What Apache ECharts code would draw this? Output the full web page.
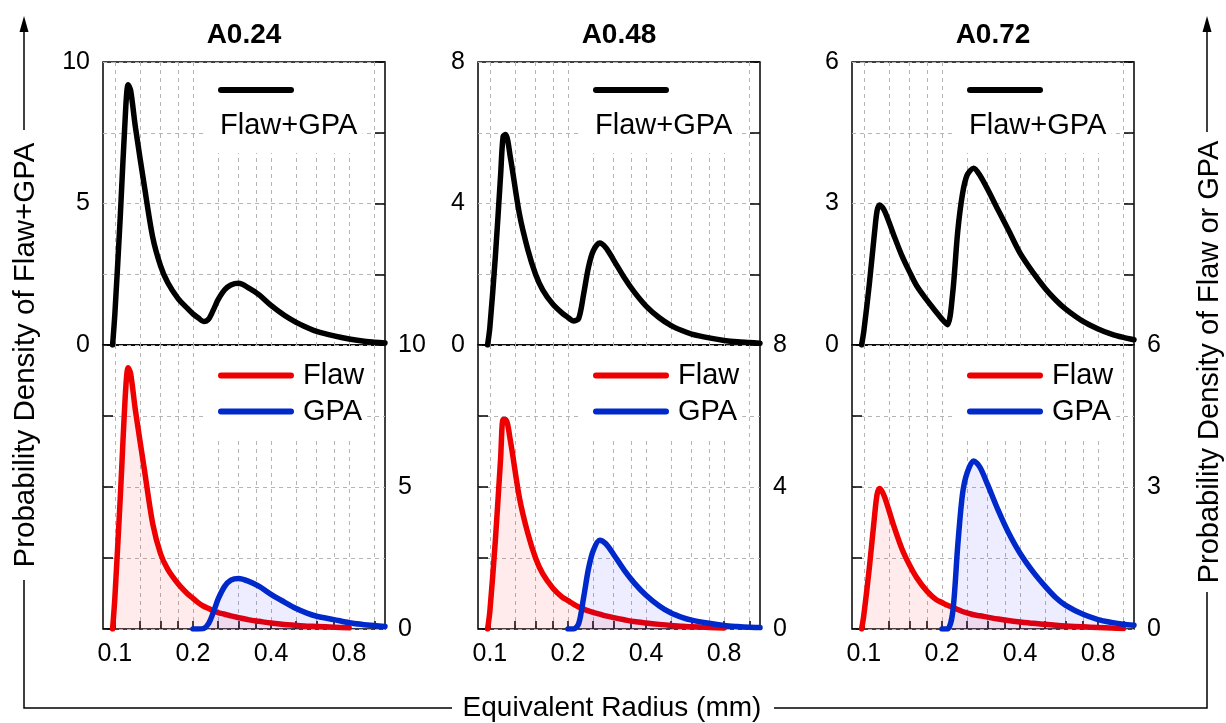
<!DOCTYPE html>
<html>
<head>
<meta charset="utf-8">
<script src="https://cdn.jsdelivr.net/npm/echarts@6/dist/echarts.min.js"></script>
<style>
  html, body { margin: 0; padding: 0; background: #fff; }
  #chart { width: 1226px; height: 723px; }
</style>
</head>
<body>
<div id="chart"></div>
<script>
// equivalent radius (mm), shared sample points of every curve
const radius = [0.098, 0.1, 0.105, 0.11, 0.1125, 0.115, 0.12, 0.13, 0.14, 0.15, 0.16, 0.175, 0.19, 0.2, 0.21, 0.22, 0.23, 0.24, 0.25, 0.265, 0.28, 0.3, 0.33, 0.36, 0.4, 0.45, 0.5, 0.55, 0.6, 0.7, 0.8, 0.9, 1.0, 1.1];

const panelNames = ['A0.24', 'A0.48', 'A0.72'];
const yMax = [10, 8, 6];

// A0.24
const sumA024  = [0, 1.1, 4.6, 8.3, 9.2, 9.0, 7.7, 5.6, 3.8, 2.8, 2.2, 1.65, 1.3, 1.1, 0.95, 0.83, 0.92, 1.25, 1.6, 1.95, 2.12, 2.18, 2.0, 1.77, 1.4, 1.05, 0.8, 0.62, 0.48, 0.32, 0.21, 0.14, 0.1, 0.07];
const flawA024 = [0, 1.1, 4.7, 8.4, 9.2, 9.0, 7.7, 5.6, 3.7, 2.65, 2.1, 1.6, 1.25, 1.08, 0.92, 0.8, 0.72, 0.64, 0.58, 0.52, 0.46, 0.4, 0.32, 0.27, 0.21, 0.16, 0.13, 0.1, 0.09, 0.06, 0.04, null, null, null];
const gpaA024  = [null, null, null, null, null, null, null, null, null, null, null, null, null, 0, 0, 0.02, 0.2, 0.6, 1.05, 1.5, 1.72, 1.78, 1.67, 1.5, 1.22, 0.95, 0.72, 0.56, 0.45, 0.33, 0.22, 0.16, 0.12, 0.09];

// A0.48
const sumA048  = [0, 0.5, 2.5, 4.8, 5.9, 5.95, 5.3, 3.7, 2.7, 2.0, 1.55, 1.15, 0.9, 0.78, 0.68, 0.75, 1.45, 2.2, 2.65, 2.88, 2.75, 2.4, 1.9, 1.5, 1.1, 0.77, 0.55, 0.41, 0.31, 0.2, 0.13, 0.09, 0.07, 0.05];
const flawA048 = [0, 0.5, 2.5, 4.8, 5.9, 5.9, 5.3, 3.7, 2.7, 2.0, 1.55, 1.15, 0.9, 0.8, 0.7, 0.62, 0.56, 0.51, 0.47, 0.42, 0.37, 0.32, 0.26, 0.21, 0.17, 0.13, 0.1, 0.08, 0.06, 0.04, 0.03, null, null, null];
const gpaA048  = [null, null, null, null, null, null, null, null, null, null, null, null, null, 0, 0, 0.15, 0.9, 1.7, 2.2, 2.5, 2.4, 2.1, 1.65, 1.3, 0.95, 0.65, 0.45, 0.33, 0.25, 0.16, 0.1, 0.07, 0.05, 0.04];

// A0.72
const sumA072  = [0, 0.3, 1.3, 2.4, 2.85, 2.97, 2.85, 2.35, 1.9, 1.55, 1.25, 0.95, 0.7, 0.55, 0.43, 1.1, 2.4, 3.2, 3.6, 3.75, 3.6, 3.3, 2.85, 2.45, 1.95, 1.53, 1.2, 0.95, 0.76, 0.5, 0.34, 0.23, 0.16, 0.11];
const flawA072 = [0, 0.3, 1.3, 2.4, 2.85, 2.97, 2.8, 2.2, 1.7, 1.35, 1.08, 0.8, 0.62, 0.56, 0.5, 0.46, 0.41, 0.37, 0.34, 0.3, 0.28, 0.25, 0.21, 0.18, 0.15, 0.12, 0.1, 0.08, 0.065, 0.045, 0.03, 0.02, 0.01, null];
const gpaA072  = [null, null, null, null, null, null, null, null, null, null, null, null, null, 0, 0, 0.35, 1.75, 2.85, 3.3, 3.55, 3.42, 3.05, 2.5, 2.05, 1.6, 1.2, 0.9, 0.66, 0.5, 0.31, 0.2, 0.14, 0.1, 0.08];

const sumData = [sumA024, sumA048, sumA072];
const flawData = [flawA024, flawA048, flawA072];
const gpaData = [gpaA024, gpaA048, gpaA072];

// x axis (log scale)
const xRange = [0.09, 1.1];
const xTickLabels = [0.1, 0.2, 0.4, 0.8];
const xGridValues = [0.1, 0.125, 0.15, 0.175, 0.2, 0.25, 0.3, 0.35, 0.4, 0.5, 0.6, 0.7, 0.8, 1.0];

const FONT = '"Liberation Sans", Arial, sans-serif';
const panelLeft = [103, 478, 852];
const plotW = 282;
const topY = 62, midY = 345, botY = 629;

const lg = v => Math.log10(v);

function toPoints(vals) {
    let pts = [];
    radius.forEach((r, i) => {
        if (vals[i] != null) pts.push([lg(r), vals[i]]);
    });
    return pts;
}

let grid = [], xAxis = [], yAxis = [], series = [], legend = [], graphic = [];

for (let p = 0; p < 3; p++) {
    const ym = yMax[p];
    const left = panelLeft[p];
    // 0: top (Flaw+GPA), 1: bottom (Flaw, GPA)
    for (let k = 0; k < 2; k++) {
        const gi = p * 2 + k;
        const isBottom = k === 1;
        grid.push({
            left: left,
            top: isBottom ? midY : topY,
            width: plotW,
            height: isBottom ? botY - midY : midY - topY,
            show: true,
            borderColor: '#000',
            borderWidth: 1.5,
            backgroundColor: 'transparent'
        });
        xAxis.push({
            type: 'value',
            gridIndex: gi,
            min: lg(xRange[0]),
            max: lg(xRange[1]),
            axisLine: { show: false },
            axisTick: {
                show: isBottom,
                inside: true,
                length: 8,
                customValues: xGridValues.map(lg),
                lineStyle: { color: '#000', width: 1.5 }
            },
            axisLabel: {
                show: isBottom,
                customValues: xTickLabels.map(lg),
                formatter: v => (+Math.pow(10, v).toFixed(2)).toString(),
                fontFamily: FONT,
                fontSize: 25,
                color: '#000',
                margin: 13
            },
            splitLine: {
                show: true,
                lineStyle: { color: '#b4b4b4', width: 1, type: [4, 4] }
            }
        });
        // axis with labels
        yAxis.push({
            type: 'value',
            gridIndex: gi,
            position: isBottom ? 'right' : 'left',
            min: 0,
            max: ym,
            interval: ym / 4,
            axisLine: { show: false },
            axisTick: { show: false },
            axisLabel: {
                fontFamily: FONT,
                fontSize: 25,
                color: '#000',
                margin: 13,
                formatter: v => (Math.abs(v % (ym / 2)) < 1e-9 ? String(v) : '')
            },
            splitLine: {
                show: true,
                lineStyle: { color: '#b4b4b4', width: 1, type: [4, 4] }
            }
        });
        // axis with ticks only, on the other side
        yAxis.push({
            type: 'value',
            gridIndex: gi,
            position: isBottom ? 'left' : 'right',
            min: 0,
            max: ym,
            interval: ym / 4,
            axisLine: { show: false },
            axisTick: { show: true, inside: true, length: 10, lineStyle: { color: '#000', width: 1.5 } },
            axisLabel: { show: false },
            splitLine: { show: false }
        });

        const common = {
            type: 'line',
            xAxisIndex: gi,
            yAxisIndex: gi * 2,
            symbol: 'none',
            smooth: 0.3
        };
        if (!isBottom) {
            series.push(Object.assign({}, common, {
                name: 'Flaw+GPA',
                data: toPoints(sumData[p]),
                lineStyle: { color: '#000', width: 5.5, cap: 'round', join: 'round' },
                itemStyle: { color: '#000' },
                z: 3
            }));
        } else {
            series.push(Object.assign({}, common, {
                name: 'Flaw',
                data: toPoints(flawData[p]),
                lineStyle: { color: '#ee0000', width: 5.5, cap: 'round', join: 'round' },
                itemStyle: { color: '#ee0000' },
                areaStyle: { color: 'rgba(255, 0, 0, 0.11)' },
                z: 3
            }));
            series.push(Object.assign({}, common, {
                name: 'GPA',
                data: toPoints(gpaData[p]),
                lineStyle: { color: '#0029cc', width: 5.5, cap: 'round', join: 'round' },
                itemStyle: { color: '#0029cc' },
                areaStyle: { color: 'rgba(0, 0, 255, 0.1)' },
                z: 4
            }));
        }
    }

    // legends, white boxes hide the grid lines behind them
    legend.push({
        data: ['Flaw+GPA'],
        left: left + 100,
        top: topY + 1,
        padding: [24, 66, 60, 15],
        itemWidth: 70,
        itemHeight: 6,
        backgroundColor: '#fff',
        selectedMode: false,
        formatter: () => ' ',
        textStyle: { fontSize: 2 },
        lineStyle: { width: 6, cap: 'round' }
    });
    legend.push({
        data: ['Flaw', 'GPA'],
        orient: 'vertical',
        left: left + 100,
        top: midY + 1,
        padding: [15, 3, 11, 15],
        itemWidth: 70,
        itemHeight: 6,
        itemGap: 7,
        backgroundColor: '#fff',
        selectedMode: false,
        textStyle: { fontFamily: FONT, fontSize: 29, color: '#000', lineHeight: 28, padding: [0, 0, 0, 7] },
        lineStyle: { width: 6, cap: 'round' }
    });

    graphic.push({
        type: 'text', x: left + plotW / 2, y: 35, z: 10,
        style: { text: panelNames[p], font: 'bold 28px ' + FONT, fill: '#000', align: 'center', verticalAlign: 'middle' }
    });
    graphic.push({
        type: 'text', x: left + 117, y: 126, z: 10,
        style: { text: 'Flaw+GPA', font: '29px ' + FONT, fill: '#000', align: 'left', verticalAlign: 'middle' }
    });
}

// frame lines and axis titles
const frameStyle = { stroke: '#000', lineWidth: 1.5, fill: null };
graphic.push(
    { type: 'polyline', z: 10, shape: { points: [[24, 30], [24, 130]] }, style: frameStyle },
    { type: 'polyline', z: 10, shape: { points: [[24, 580], [24, 708], [452, 708]] }, style: frameStyle },
    { type: 'polyline', z: 10, shape: { points: [[774, 708], [1207, 708], [1207, 592]] }, style: frameStyle },
    { type: 'polyline', z: 10, shape: { points: [[1207, 132], [1207, 30]] }, style: frameStyle },
    { type: 'polygon', z: 10, shape: { points: [[24, 16], [19.5, 32], [28.5, 32]] }, style: { fill: '#000' } },
    { type: 'polygon', z: 10, shape: { points: [[1207, 16], [1202.5, 32], [1211.5, 32]] }, style: { fill: '#000' } },
    {
        type: 'text', x: 612, y: 708, z: 10,
        style: { text: 'Equivalent Radius (mm)', font: '28px ' + FONT, fill: '#000', align: 'center', verticalAlign: 'middle' }
    },
    {
        type: 'text', x: 26, y: 355, z: 10, rotation: Math.PI / 2,
        style: { text: 'Probability Density of Flaw+GPA', font: '29.5px ' + FONT, fill: '#000', align: 'center', verticalAlign: 'middle' }
    },
    {
        type: 'text', x: 1210, y: 362, z: 10, rotation: Math.PI / 2,
        style: { text: 'Probability Density of Flaw or GPA', font: '29px ' + FONT, fill: '#000', align: 'center', verticalAlign: 'middle' }
    }
);

const myChart = echarts.init(document.getElementById('chart'), null, { renderer: 'canvas' });
myChart.setOption({
    backgroundColor: '#fff',
    animation: false,
    grid: grid,
    xAxis: xAxis,
    yAxis: yAxis,
    legend: legend,
    series: series,
    graphic: graphic
});
</script>
</body>
</html>
